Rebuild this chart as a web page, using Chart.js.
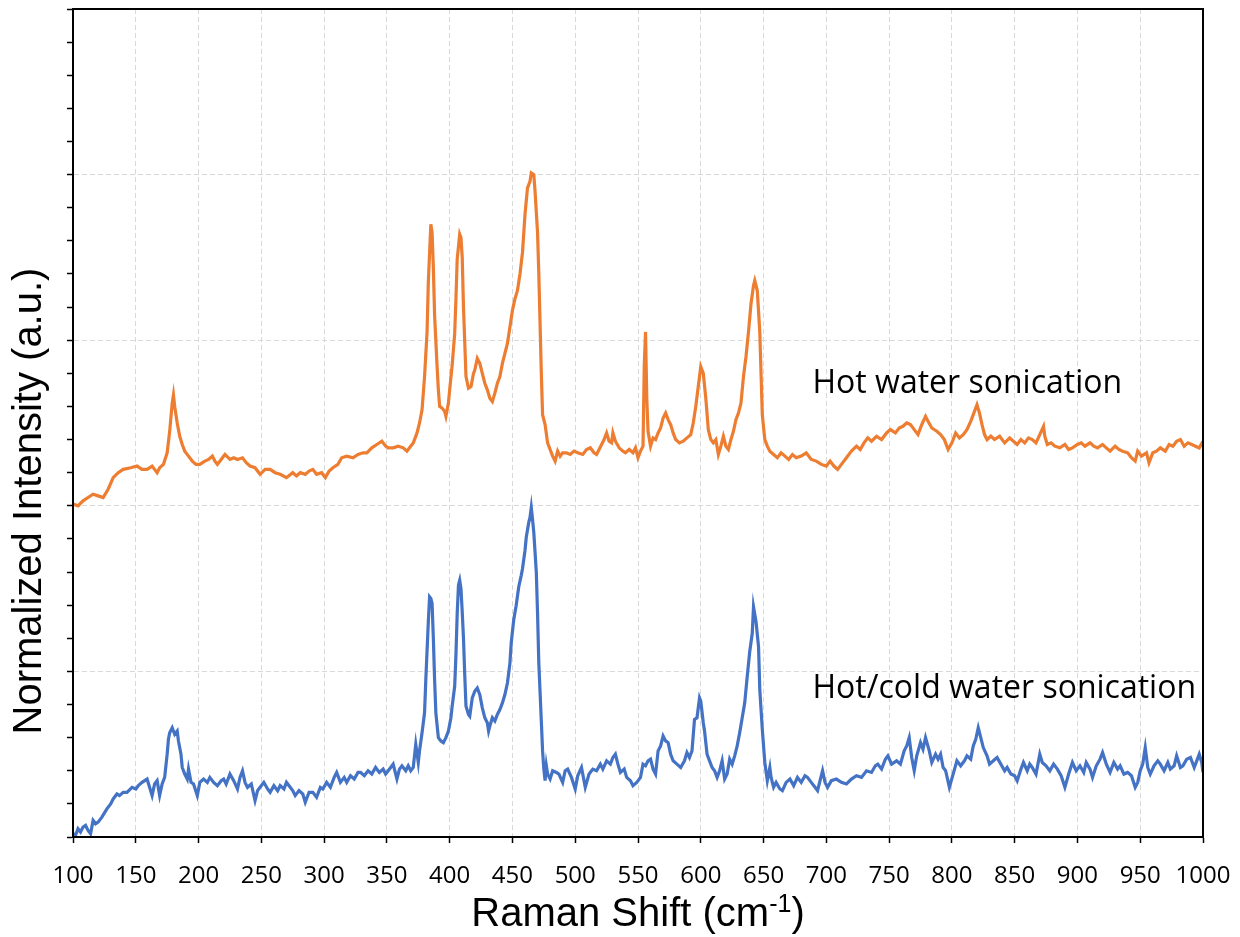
<!DOCTYPE html>
<html>
<head>
<meta charset="utf-8">
<script src="https://cdn.jsdelivr.net/npm/chart.js@4/dist/chart.umd.min.js"></script>
<style>
  html, body { margin: 0; padding: 0; background: #fff; }
</style>
</head>
<body>
<canvas id="raman" width="1240" height="937"></canvas>
<script>
// Raman spectra, normalized and offset (one gridline step = 1 a.u.)
const hotShift = [
  100,104,108,112,116,120,124,128,132,136,
  140,146,151,155,159,163,167,169,172,175,
  177,179,180,181,183,185,187,189,192,195,
  198,201,205,208,211,213,215,218,221,225,
  228,231,235,238,241,245,249,253,257,261,
  265,270,275,278,281,285,288,291,294,298,
  301,304,307,311,314,318,323,327,331,334,
  338,342,346,349,351,355,359,363,366,368,
  371,374,376,378,380,382,383,385,386,387,
  388,390,391,392,394,396,397,399,400,402,
  404,405,406,408,409,410,411,413,415,417,
  419,420,422,424,426,428,430,432,434,436,
  438,440,442,444,446,448,450,452,454,456,
  458,460,462,464,465,467,468,470,471,472,
  473,474,476,478,480,482,484,486,488,490,
  493,496,499,502,506,509,512,515,517,519,
  521,523,525,527,529,530,532,535,538,540,
  543,546,548,550,552,554,555,556,557,558,
  560,562,564,566,568,570,572,574,576,578,
  580,583,586,589,592,594,596,598,600,602,
  604,606,608,610,612,614,616,618,620,622,
  624,626,628,630,632,634,636,638,640,642,
  643,645,647,649,651,653,655,658,661,664,
  667,670,673,676,680,684,688,692,696,700,
  703,706,709,712,716,720,724,727,730,733,
  736,740,744,748,751,755,758,761,764,767,
  770,773,776,779,781,784,788,791,794,797,
  800,803,806,809,812,815,818,820,822,824,
  826,828,831,834,838,842,846,849,852,855,
  858,861,864,867,870,873,874,876,879,882,
  886,890,893,896,900,903,906,910,913,916,
  920,923,926,930,933,936,940,943,946,948,
  951,955,957,960,963,966,970,973,976,979,
  982,985,988,991,994,997,1000
];
const hotIntensity = [
  2.01,2.00,2.03,2.05,2.07,2.06,2.05,2.10,2.17,2.20,
  2.22,2.23,2.24,2.22,2.22,2.24,2.20,2.23,2.25,2.32,
  2.45,2.62,2.67,2.60,2.50,2.42,2.37,2.33,2.30,2.27,
  2.25,2.25,2.27,2.28,2.30,2.27,2.25,2.28,2.31,2.28,
  2.29,2.28,2.29,2.26,2.24,2.23,2.19,2.22,2.22,2.20,
  2.19,2.17,2.20,2.18,2.20,2.19,2.21,2.22,2.19,2.20,
  2.17,2.21,2.23,2.25,2.29,2.30,2.29,2.31,2.32,2.32,
  2.35,2.37,2.39,2.36,2.35,2.35,2.36,2.35,2.33,2.35,
  2.38,2.44,2.50,2.58,2.78,3.05,3.35,3.70,3.65,3.44,
  3.15,2.84,2.70,2.60,2.59,2.57,2.54,2.62,2.70,2.85,
  3.04,3.25,3.49,3.64,3.62,3.50,3.20,2.78,2.71,2.72,
  2.80,2.82,2.89,2.86,2.80,2.74,2.70,2.65,2.63,2.68,
  2.74,2.78,2.86,2.92,2.98,3.08,3.18,3.25,3.30,3.40,
  3.53,3.76,3.92,3.96,4.01,4.00,3.90,3.65,3.40,3.10,
  2.80,2.55,2.49,2.38,2.34,2.30,2.27,2.33,2.30,2.32,
  2.32,2.31,2.33,2.32,2.31,2.34,2.35,2.32,2.31,2.34,
  2.37,2.40,2.44,2.39,2.38,2.44,2.39,2.35,2.33,2.32,
  2.34,2.32,2.35,2.29,2.33,2.36,2.85,3.05,2.65,2.45,
  2.36,2.41,2.40,2.44,2.47,2.53,2.56,2.52,2.49,2.44,
  2.40,2.38,2.39,2.41,2.43,2.50,2.60,2.72,2.84,2.80,
  2.65,2.46,2.40,2.38,2.40,2.31,2.36,2.42,2.36,2.34,
  2.40,2.45,2.52,2.56,2.62,2.78,2.90,3.05,3.22,3.33,
  3.36,3.30,3.05,2.55,2.40,2.36,2.33,2.31,2.29,2.32,
  2.30,2.28,2.31,2.29,2.30,2.32,2.28,2.27,2.25,2.24,
  2.27,2.24,2.22,2.25,2.29,2.33,2.36,2.34,2.38,2.41,
  2.39,2.42,2.40,2.44,2.46,2.44,2.47,2.48,2.50,2.49,
  2.46,2.43,2.49,2.54,2.51,2.47,2.45,2.43,2.40,2.34,
  2.38,2.44,2.41,2.43,2.46,2.51,2.57,2.61,2.56,2.49,
  2.43,2.40,2.42,2.40,2.42,2.38,2.41,2.39,2.37,2.40,
  2.38,2.41,2.40,2.38,2.43,2.48,2.42,2.37,2.38,2.36,
  2.35,2.37,2.34,2.35,2.37,2.38,2.36,2.38,2.36,2.35,
  2.37,2.35,2.33,2.36,2.34,2.33,2.32,2.29,2.27,2.33,
  2.30,2.32,2.26,2.32,2.33,2.35,2.33,2.37,2.36,2.39,
  2.40,2.36,2.38,2.37,2.36,2.35,2.39
];

const mixShift = [
  100,102,104,106,108,110,112,114,116,118,
  120,123,127,130,132,135,137,140,143,147,
  150,152,155,159,161,163,165,167,169,171,
  173,175,176,177,179,181,183,184,186,187,
  189,191,192,194,196,199,201,204,207,209,
  212,215,218,220,222,225,228,231,233,235,
  237,239,242,245,247,249,252,255,257,260,
  263,265,268,270,273,275,277,280,283,285,
  288,291,294,297,299,302,305,308,310,313,
  316,318,321,324,327,329,332,335,338,341,
  344,347,349,351,353,355,358,360,362,365,
  367,369,371,373,375,376,378,380,381,383,
  384,385,386,387,388,389,391,393,395,397,
  399,401,402,404,405,406,407,408,409,410,
  411,412,413,415,416,418,420,422,424,426,
  428,430,431,432,434,436,438,440,442,444,
  446,448,449,451,453,455,457,458,460,461,
  463,464,465,466,467,469,470,471,473,474,
  475,476,477,478,480,482,485,487,490,492,
  494,497,500,502,505,508,511,514,517,520,
  522,525,528,530,532,534,536,539,541,544,
  546,549,552,554,556,558,560,562,564,566,
  568,570,572,574,576,578,581,584,587,589,
  591,593,595,597,599,600,602,603,605,607,
  609,611,613,615,617,619,621,623,625,627,
  629,631,633,635,637,639,641,642,644,646,
  647,649,650,651,653,655,656,658,660,663,
  665,668,671,674,677,680,683,685,688,691,
  693,695,697,699,701,704,708,712,716,720,
  724,728,732,736,739,741,744,747,749,752,
  756,759,762,764,766,768,770,772,775,777,
  779,782,784,787,789,791,793,795,798,801,
  804,807,810,812,815,817,819,821,823,825,
  828,830,833,836,839,842,844,847,850,852,
  855,857,860,862,864,867,870,872,875,878,
  881,884,887,890,893,896,899,902,905,907,
  910,912,915,918,920,923,926,929,932,934,
  937,940,943,946,948,950,952,954,956,958,
  961,964,966,969,972,974,977,979,982,984,
  987,990,993,995,997,999,1000
];
const mixIntensity = [
  0.02,0.01,0.05,0.03,0.06,0.07,0.04,0.02,0.10,0.08,
  0.09,0.12,0.17,0.20,0.23,0.26,0.25,0.27,0.27,0.30,
  0.29,0.31,0.33,0.35,0.30,0.25,0.32,0.34,0.25,0.32,
  0.36,0.50,0.59,0.63,0.66,0.62,0.64,0.58,0.50,0.42,
  0.38,0.35,0.41,0.33,0.32,0.25,0.33,0.35,0.33,0.36,
  0.33,0.31,0.34,0.35,0.32,0.38,0.34,0.29,0.36,0.40,
  0.33,0.30,0.32,0.22,0.28,0.30,0.33,0.29,0.27,0.31,
  0.28,0.31,0.29,0.33,0.30,0.28,0.25,0.28,0.26,0.21,
  0.27,0.27,0.24,0.30,0.29,0.33,0.30,0.36,0.39,0.33,
  0.36,0.33,0.37,0.35,0.39,0.39,0.37,0.40,0.38,0.42,
  0.39,0.41,0.38,0.40,0.42,0.44,0.35,0.41,0.43,0.40,
  0.43,0.40,0.42,0.56,0.45,0.52,0.63,0.75,0.95,1.30,
  1.45,1.44,1.41,1.20,0.95,0.75,0.60,0.58,0.57,0.60,
  0.64,0.72,0.79,0.91,1.10,1.35,1.52,1.55,1.50,1.36,
  1.20,0.98,0.79,0.74,0.73,0.84,0.88,0.90,0.86,0.78,
  0.72,0.69,0.64,0.67,0.72,0.70,0.74,0.77,0.81,0.86,
  0.93,1.05,1.17,1.31,1.40,1.51,1.58,1.62,1.73,1.81,
  1.90,1.93,1.99,1.92,1.84,1.60,1.35,1.05,0.70,0.52,
  0.41,0.34,0.43,0.38,0.35,0.40,0.39,0.38,0.33,0.40,
  0.41,0.36,0.29,0.37,0.42,0.30,0.38,0.41,0.40,0.44,
  0.41,0.46,0.44,0.48,0.50,0.44,0.39,0.41,0.36,0.34,
  0.31,0.33,0.36,0.44,0.43,0.46,0.47,0.41,0.38,0.52,
  0.55,0.61,0.58,0.57,0.50,0.46,0.44,0.42,0.46,0.51,
  0.48,0.52,0.71,0.72,0.84,0.82,0.69,0.64,0.50,0.46,
  0.42,0.40,0.36,0.40,0.46,0.35,0.38,0.47,0.44,0.49,
  0.55,0.63,0.72,0.81,0.97,1.12,1.23,1.39,1.30,1.15,
  0.89,0.65,0.55,0.45,0.34,0.42,0.36,0.30,0.33,0.29,
  0.28,0.33,0.35,0.31,0.36,0.33,0.37,0.36,0.33,0.30,
  0.28,0.34,0.40,0.33,0.30,0.34,0.35,0.33,0.32,0.35,
  0.37,0.36,0.40,0.39,0.43,0.44,0.41,0.47,0.49,0.44,
  0.46,0.44,0.52,0.55,0.60,0.48,0.40,0.49,0.57,0.53,
  0.60,0.52,0.45,0.50,0.47,0.50,0.42,0.40,0.30,0.38,
  0.46,0.43,0.46,0.49,0.47,0.55,0.59,0.66,0.60,0.54,
  0.49,0.44,0.46,0.48,0.44,0.40,0.42,0.38,0.37,0.34,
  0.41,0.45,0.40,0.44,0.42,0.38,0.50,0.45,0.43,0.40,
  0.44,0.41,0.37,0.30,0.38,0.45,0.40,0.43,0.39,0.45,
  0.41,0.36,0.43,0.47,0.51,0.44,0.39,0.45,0.41,0.43,
  0.38,0.39,0.37,0.30,0.33,0.40,0.44,0.54,0.42,0.38,
  0.43,0.46,0.44,0.40,0.45,0.41,0.43,0.49,0.42,0.43,
  0.47,0.48,0.42,0.46,0.50,0.45,0.39
];

const seriesNames = ['Hot water sonication', 'Hot/cold water sonication'];

const toPoints = (xs, ys) => xs.map((x, i) => ({ x: x, y: ys[i] }));

const gridGray = '#d9d9d9';

// outer box on all four sides
const frame = {
  id: 'frame',
  afterDraw(chart) {
    const { ctx, chartArea: a } = chart;
    ctx.save();
    ctx.strokeStyle = '#000';
    ctx.lineWidth = 2;
    ctx.strokeRect(a.left, a.top, a.right - a.left, a.bottom - a.top);
    ctx.restore();
  }
};

// axis titles (x title needs a superscript) and the series labels
const texts = {
  id: 'texts',
  afterDraw(chart) {
    const { ctx, chartArea: a } = chart;
    const xs = chart.scales.x, ys = chart.scales.y;
    ctx.save();
    ctx.fillStyle = '#000';

    // series labels next to their traces
    ctx.font = '32px "Open Sans"';
    ctx.textAlign = 'left';
    ctx.textBaseline = 'alphabetic';
    ctx.fillText(seriesNames[0], xs.getPixelForValue(689), ys.getPixelForValue(2.68));
    ctx.fillText(seriesNames[1], xs.getPixelForValue(689), ys.getPixelForValue(0.84));

    // x title: Raman Shift (cm-1)
    const main = 'Raman Shift (cm', sup = '-1', tail = ')';
    ctx.font = '40px "Liberation Sans"';
    const wMain = ctx.measureText(main).width;
    const wTail = ctx.measureText(tail).width;
    ctx.font = '25px "Liberation Sans"';
    const wSup = ctx.measureText(sup).width;
    let x = (a.left + a.right) / 2 - (wMain + wSup + wTail) / 2;
    const base = 926;
    ctx.font = '40px "Liberation Sans"';
    ctx.fillText(main, x, base);
    x += wMain;
    ctx.font = '25px "Liberation Sans"';
    ctx.fillText(sup, x, base - 14);
    x += wSup;
    ctx.font = '40px "Liberation Sans"';
    ctx.fillText(tail, x, base);

    // y title, rotated
    ctx.translate(30, 501);
    ctx.rotate(-Math.PI / 2);
    ctx.textAlign = 'center';
    ctx.textBaseline = 'middle';
    ctx.fillText('Normalized Intensity (a.u.)', 0, 0);
    ctx.restore();
  }
};

new Chart(document.getElementById('raman'), {
  type: 'line',
  data: {
    datasets: [
      {
        label: seriesNames[0],
        data: toPoints(hotShift, hotIntensity),
        borderColor: '#ED7D31',
        borderWidth: 3.2,
        pointRadius: 0,
        tension: 0
      },
      {
        label: seriesNames[1],
        data: toPoints(mixShift, mixIntensity),
        borderColor: '#4472C4',
        borderWidth: 3.2,
        pointRadius: 0,
        tension: 0
      }
    ]
  },
  options: {
    responsive: false,
    animation: false,
    devicePixelRatio: 1,
    layout: { padding: { top: 9, right: 37, bottom: 0, left: 0 } },
    plugins: {
      legend: { display: false },
      tooltip: { enabled: false }
    },
    scales: {
      x: {
        type: 'linear',
        min: 100,
        max: 1000,
        afterFit: (scale) => {
          scale.height = 100;
          // let the end labels hang past the plot edge
          scale.paddingLeft = 0;
          scale.paddingRight = 0;
        },
        ticks: {
          stepSize: 50,
          color: '#000',
          padding: 19,
          maxRotation: 0,
          font: { family: '"Open Sans"', size: 24 },
          callback: (v) => String(v)
        },
        grid: {
          color: gridGray,
          tickColor: '#000',
          tickLength: 6,
          tickWidth: 1.5
        },
        border: { color: '#000', width: 2, dash: [5, 3] }
      },
      y: {
        type: 'linear',
        min: 0,
        max: 5,
        afterFit: (scale) => { scale.width = 73; },
        ticks: { display: false, stepSize: 0.2 },
        grid: {
          color: (c) => {
            const v = Math.round(c.tick.value * 10) / 10;
            return (Number.isInteger(v) && v > 0 && v < 5) ? gridGray : 'rgba(0,0,0,0)';
          },
          tickColor: '#000',
          tickLength: 6,
          tickWidth: 1.5
        },
        border: { color: '#000', width: 2, dash: [5, 3] }
      }
    }
  },
  plugins: [frame, texts]
});
</script>
</body>
</html>
